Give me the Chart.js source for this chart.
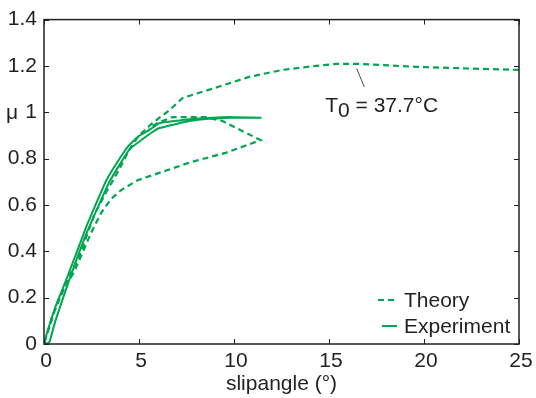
<!DOCTYPE html>
<html>
<head>
<meta charset="utf-8">
<script src="https://cdn.jsdelivr.net/npm/chart.js@4.4.0/dist/chart.umd.min.js"></script>
<style>
  html, body { margin: 0; padding: 0; background: #ffffff; }
  canvas { display: block; }
</style>
</head>
<body>
<canvas id="c" width="536" height="398"></canvas>
<script>
// ---- data ----
const theoryX = [25, 23.1, 19.6, 16.5, 15.4, 14.3, 12.55, 10.8, 9.07, 7.3, 6.6, 5.7, 5.0, 4.48, 3.96, 3.27, 2.64, 1.95, 1.16, 0.42, 0,
                 0.79, 1.58, 2.48, 3.0, 3.53, 4.06, 4.9, 6.3, 7.65, 9.6, 11.4, 9.4, 8.5, 6.75, 6.0, 5.5];
const theoryY = [1.183, 1.187, 1.196, 1.209, 1.209, 1.2, 1.183, 1.153, 1.107, 1.062, 1.009, 0.953, 0.9, 0.838, 0.753, 0.655, 0.557, 0.4, 0.26, 0.115, 0,
                 0.2, 0.31, 0.48, 0.565, 0.626, 0.664, 0.706, 0.745, 0.783, 0.826, 0.88, 0.962, 0.979, 0.979, 0.955, 0.93];

const experimentX = [0.3, 0.6, 1.3, 2.3, 3.43, 4.48, 5.54, 6.07, 7.65, 8.7, 10.0, 11.45, 10.0, 9.4, 7.65, 6.07, 5.54, 5.0, 4.48, 4.06, 3.43, 3.16, 2.27, 1.21, 0.6, 0.15, 0.05, 0.15, 0.3];
const experimentY = [0.01, 0.1, 0.27, 0.49, 0.698, 0.838, 0.905, 0.932, 0.962, 0.972, 0.977, 0.976, 0.979, 0.979, 0.97, 0.953, 0.923, 0.898, 0.858, 0.81, 0.728, 0.685, 0.515, 0.285, 0.16, 0.045, 0.01, 0.0, 0.01];

const xTickValues = [0, 5, 10, 15, 20, 25];
const xTickLabels = ['0', '5', '10', '15', '20', '25'];
const yTickValues = [0, 0.2, 0.4, 0.6, 0.8, 1.0, 1.2, 1.4];
const yTickLabels = ['0', '0.2', '0.4', '0.6', '0.8', '1', '1.2', '1.4'];

const seriesNames = ['Theory', 'Experiment'];
const xTitle = 'slipangle (°)';
const yTitle = 'μ';
const annotationText = { main: 'T', sub: '0', rest: ' = 37.7°C' };
const annotationAnchor = { x: 14.8, y: 1.0 };
const annotationLeader = { x1: 16.46, y1: 1.188, x2: 16.86, y2: 1.109 };

// ---- styling ----
const GREEN = '#00a651';
const INK = '#231f20';
const FONT = "'Liberation Sans', Arial, Helvetica, sans-serif";
const FS = 21;
Chart.defaults.font.family = FONT;
Chart.defaults.color = INK;

const toPts = (xs, ys) => xs.map((v, i) => ({ x: v, y: ys[i] }));

const framePlugin = {
  id: 'frameAndExtras',
  afterDraw(chart) {
    const { ctx, chartArea: a, scales: { x, y } } = chart;
    ctx.save();
    // box
    ctx.strokeStyle = INK;
    ctx.lineWidth = 1.5;
    ctx.strokeRect(a.left, a.top, a.right - a.left, a.bottom - a.top);
    // inward ticks
    ctx.lineWidth = 1;
    ctx.beginPath();
    const tl = 5;
    xTickValues.forEach(v => {
      const px = Math.round(x.getPixelForValue(v)) + 0.5;
      ctx.moveTo(px, a.bottom); ctx.lineTo(px, a.bottom - tl);
      ctx.moveTo(px, a.top); ctx.lineTo(px, a.top + tl);
    });
    yTickValues.forEach(v => {
      const py = Math.round(y.getPixelForValue(v)) + 0.5;
      ctx.moveTo(a.left, py); ctx.lineTo(a.left + tl, py);
      ctx.moveTo(a.right, py); ctx.lineTo(a.right - tl, py);
    });
    ctx.stroke();

    // y title (mu) next to the "1" label
    ctx.fillStyle = INK;
    ctx.font = FS + 'px ' + FONT;
    ctx.textAlign = 'center';
    ctx.textBaseline = 'middle';
    ctx.fillText(yTitle, 12, y.getPixelForValue(1.0) + 1);

    // legend
    const ds = chart.data.datasets;
    const legendRows = [300, 326];
    ds.forEach((d, i) => {
      const ly = legendRows[i];
      ctx.strokeStyle = d.borderColor;
      ctx.lineWidth = d.borderWidth;
      ctx.setLineDash(d.borderDash || []);
      ctx.beginPath();
      ctx.moveTo(i === 0 ? 378 : 382, ly);
      ctx.lineTo(397, ly);
      ctx.stroke();
      ctx.setLineDash([]);
      ctx.fillStyle = INK;
      ctx.textAlign = 'left';
      ctx.textBaseline = 'middle';
      ctx.fillText(seriesNames[i], 404, ly + 1);
    });

    // annotation leader line
    ctx.strokeStyle = INK;
    ctx.lineWidth = 0.8;
    ctx.beginPath();
    ctx.moveTo(x.getPixelForValue(annotationLeader.x1), y.getPixelForValue(annotationLeader.y1));
    ctx.lineTo(x.getPixelForValue(annotationLeader.x2), y.getPixelForValue(annotationLeader.y2));
    ctx.stroke();

    // annotation text with subscript
    ctx.fillStyle = INK;
    ctx.textAlign = 'left';
    ctx.textBaseline = 'alphabetic';
    let tx = x.getPixelForValue(annotationAnchor.x);
    const ty = y.getPixelForValue(annotationAnchor.y);
    ctx.font = FS + 'px ' + FONT;
    ctx.fillText(annotationText.main, tx, ty);
    tx += ctx.measureText(annotationText.main).width;
    ctx.fillText(annotationText.sub, tx, ty + 5);
    tx += ctx.measureText(annotationText.sub).width;
    ctx.fillText(annotationText.rest, tx, ty);
    ctx.restore();
  }
};

new Chart(document.getElementById('c'), {
  type: 'scatter',
  data: {
    datasets: [
      {
        label: seriesNames[0],
        data: toPts(theoryX, theoryY),
        showLine: true,
        borderColor: GREEN,
        backgroundColor: GREEN,
        borderWidth: 2.2,
        borderDash: [6, 4],
        pointRadius: 0,
        tension: 0,
        fill: false
      },
      {
        label: seriesNames[1],
        data: toPts(experimentX, experimentY),
        showLine: true,
        borderColor: GREEN,
        backgroundColor: GREEN,
        borderWidth: 2,
        pointRadius: 0,
        tension: 0.1,
        fill: false
      }
    ]
  },
  options: {
    responsive: false,
    animation: false,
    devicePixelRatio: 1,
    layout: { padding: { top: 14, right: 17, left: 0, bottom: 0 } },
    plugins: { legend: { display: false }, tooltip: { enabled: false } },
    scales: {
      x: {
        type: 'linear',
        min: 0, max: 25,
        afterFit: s => { s.height = 54; },
        afterBuildTicks: s => { s.ticks = xTickValues.map(v => ({ value: v })); },
        grid: { display: false, drawTicks: false },
        border: { display: false },
        ticks: {
          callback: (v, i) => xTickLabels[i],
          font: { size: FS },
          color: INK,
          padding: 5,
          labelOffset: 2,
          maxRotation: 0,
          autoSkip: false
        },
        title: {
          display: true,
          text: xTitle,
          font: { size: FS },
          color: INK,
          padding: { top: 0, bottom: 1 }
        }
      },
      y: {
        type: 'linear',
        min: 0, max: 1.4,
        afterFit: s => { s.width = 44; },
        afterBuildTicks: s => { s.ticks = yTickValues.map(v => ({ value: v })); },
        grid: { display: false, drawTicks: false },
        border: { display: false },
        ticks: {
          callback: (v, i) => yTickLabels[i],
          font: { size: FS },
          color: INK,
          padding: 7,
          autoSkip: false
        }
      }
    }
  },
  plugins: [framePlugin]
});
</script>
</body>
</html>
